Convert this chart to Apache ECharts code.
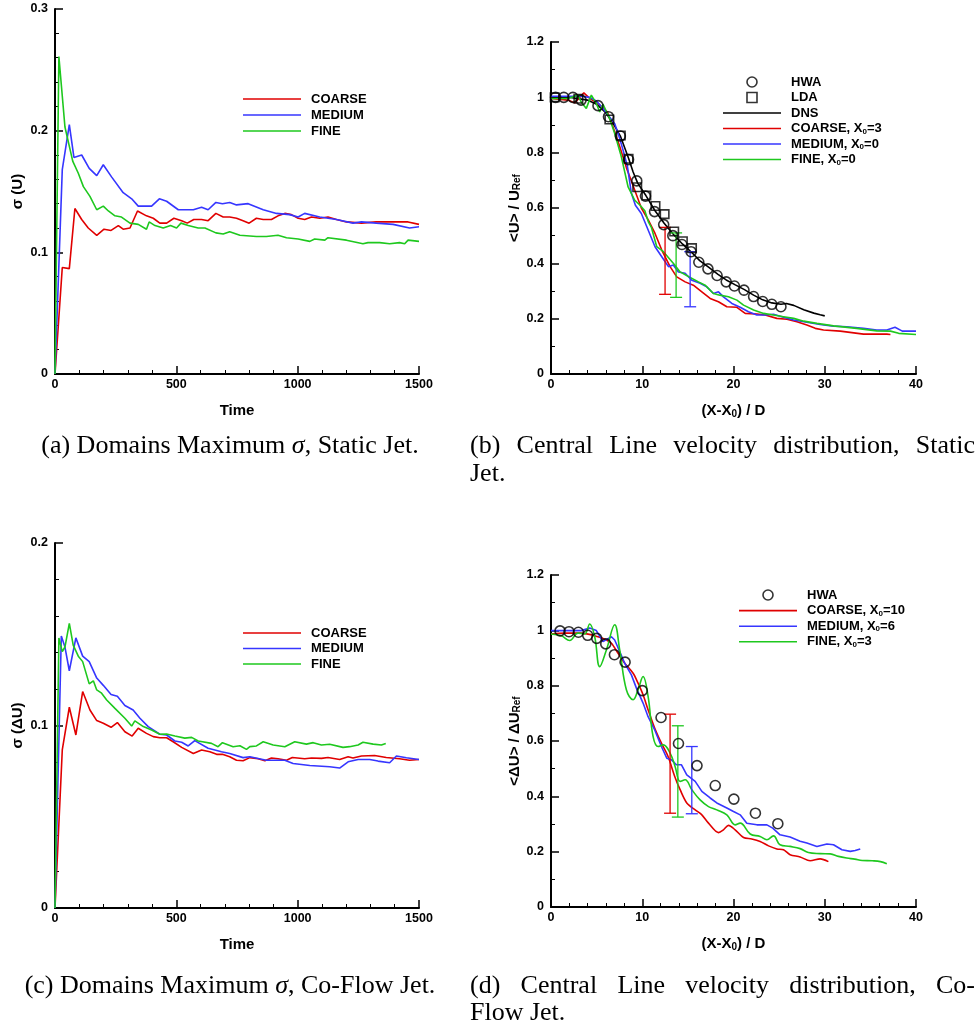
<!DOCTYPE html>
<html><head><meta charset="utf-8">
<script src="https://cdn.jsdelivr.net/npm/echarts/dist/echarts.min.js"></script>
<style>html,body{margin:0;padding:0;background:#fff}#c{width:979px;height:1033px}</style>
</head><body><div id="c"></div>
<script>
// ---------- DATA ----------
// (a) Static jet, domain maximum sigma(U) vs time
const a_coarse = [[0,0],[30,0.0875],[59,0.0866],[82,0.136],[110,0.127],[137,0.120],[172,0.114],[202,0.119],[231,0.118],[261,0.122],[281,0.119],[309,0.120],[340,0.134],[377,0.130],[405,0.128],[432,0.124],[460,0.124],[490,0.128],[522,0.126],[545,0.124],[572,0.127],[604,0.127],[631,0.126],[663,0.132],[693,0.129],[720,0.129],[748,0.128],[775,0.126],[800,0.124],[830,0.128],[858,0.127],[892,0.127],[919,0.130],[947,0.132],[974,0.131],[1002,0.128],[1029,0.127],[1057,0.129],[1091,0.128],[1125,0.129],[1160,0.127],[1201,0.125],[1263,0.124],[1324,0.125],[1393,0.125],[1455,0.125],[1500,0.123]];
const a_medium = [[0,0],[30,0.168],[59,0.205],[78,0.178],[110,0.180],[141,0.169],[172,0.163],[199,0.172],[233,0.162],[281,0.149],[316,0.144],[343,0.138],[398,0.138],[430,0.144],[460,0.142],[508,0.135],[570,0.135],[604,0.137],[631,0.135],[663,0.141],[690,0.140],[720,0.141],[748,0.139],[796,0.140],[858,0.135],[913,0.132],[967,0.131],[1002,0.129],[1029,0.132],[1091,0.129],[1160,0.127],[1228,0.124],[1263,0.125],[1324,0.124],[1393,0.123],[1461,0.120],[1500,0.121]];
const a_fine = [[0,0],[16,0.261],[41,0.203],[73,0.175],[96,0.165],[117,0.154],[144,0.146],[172,0.135],[199,0.138],[220,0.134],[247,0.130],[274,0.129],[309,0.124],[343,0.123],[377,0.119],[388,0.125],[412,0.122],[446,0.120],[476,0.122],[501,0.120],[519,0.124],[549,0.122],[590,0.120],[618,0.120],[663,0.116],[693,0.115],[720,0.117],[762,0.114],[830,0.113],[871,0.113],[919,0.114],[954,0.112],[1002,0.111],[1050,0.109],[1070,0.111],[1112,0.110],[1125,0.112],[1201,0.110],[1269,0.107],[1290,0.108],[1338,0.108],[1379,0.107],[1420,0.108],[1441,0.107],[1455,0.110],[1500,0.109]];

// (b) Static jet, centre-line velocity
const b_hwa = [[0.5,1.0],[1.4,1.0],[2.4,1.0],[3.3,0.99],[5.15,0.97],[6.3,0.93],[7.6,0.86],[8.5,0.775],[9.4,0.698],[10.35,0.643],[11.35,0.587],[12.35,0.54],[13.35,0.5],[14.35,0.468],[15.35,0.442],[16.2,0.404],[17.2,0.38],[18.2,0.356],[19.2,0.333],[20.1,0.318],[21.15,0.303],[22.2,0.28],[23.2,0.262],[24.2,0.252],[25.2,0.243]];
const b_lda = [[0.4,1.0],[3.0,0.995],[6.4,0.92],[7.65,0.862],[8.5,0.778],[9.45,0.675],[10.45,0.645],[11.45,0.607],[12.45,0.578],[13.5,0.515],[14.45,0.48],[15.45,0.455]];
const b_dns = [[0,1.0],[2,1.0],[4,0.99],[5,0.975],[6,0.945],[7,0.895],[7.6,0.86],[8.5,0.78],[9,0.73],[9.5,0.69],[10.4,0.645],[11.4,0.59],[12.4,0.545],[13.4,0.505],[14.4,0.47],[15.4,0.44],[16.3,0.41],[17.3,0.385],[18.3,0.36],[19.2,0.34],[20.2,0.322],[21.2,0.305],[22.2,0.285],[23.2,0.268],[24.2,0.257],[25.2,0.252],[25.8,0.255],[26.6,0.248],[27.7,0.232],[28.8,0.22],[29.5,0.214],[30,0.21]];
const b_coarse = [[0,0.996],[1.86,0.99],[2.6,0.98],[3.6,1.016],[4.24,0.996],[5.15,0.978],[6.18,0.947],[6.8,0.893],[7.54,0.821],[8.26,0.746],[9.18,0.664],[9.9,0.6],[10.67,0.556],[11.4,0.508],[12.14,0.448],[13.05,0.388],[13.78,0.351],[14.7,0.333],[15.6,0.321],[16.53,0.297],[17.44,0.273],[18.35,0.261],[19.27,0.243],[20.37,0.241],[21.28,0.219],[22.56,0.217],[23.47,0.213],[24.75,0.201],[25.85,0.198],[26.95,0.189],[28.04,0.177],[28.96,0.165],[29.87,0.159],[31.7,0.155],[34.25,0.144],[36.8,0.144],[37.2,0.143]];
const b_medium = [[0,1.004],[3.3,1.004],[4.24,1.0],[4.97,0.987],[5.7,0.96],[6.98,0.905],[7.53,0.851],[7.9,0.809],[8.37,0.751],[8.81,0.653],[9.25,0.61],[9.9,0.58],[10.5,0.532],[11.4,0.46],[12.14,0.424],[12.87,0.388],[13.4,0.394],[13.96,0.369],[14.7,0.364],[15.43,0.339],[16.34,0.328],[17.07,0.315],[17.8,0.291],[18.35,0.297],[18.9,0.279],[19.82,0.255],[20.73,0.241],[21.64,0.225],[22.56,0.213],[23.47,0.213],[24.38,0.216],[25.48,0.205],[26.58,0.195],[28.04,0.187],[29.5,0.179],[30.96,0.173],[32.4,0.171],[34.25,0.165],[35.7,0.159],[36.8,0.159],[37.7,0.169],[38.5,0.155],[40,0.155]];
const b_fine = [[0,0.996],[1.86,0.996],[2.96,1.008],[3.3,0.983],[3.87,0.96],[4.42,1.008],[4.97,0.978],[5.34,0.947],[5.7,0.975],[6.44,0.923],[6.98,0.869],[7.71,0.785],[8.45,0.676],[9.18,0.628],[9.76,0.61],[10.28,0.59],[10.67,0.55],[11.0,0.53],[11.59,0.46],[12.32,0.442],[13.4,0.4],[14.15,0.369],[15.25,0.349],[16.16,0.333],[16.89,0.321],[17.8,0.291],[18.5,0.285],[19.45,0.279],[20.37,0.267],[21.1,0.249],[22.2,0.231],[23.3,0.219],[24.38,0.213],[25.48,0.207],[26.6,0.201],[27.7,0.191],[29.14,0.183],[30.96,0.174],[33.5,0.165],[35.7,0.156],[37.2,0.155],[38.1,0.147],[40,0.143]];
// error bars: [x, low, high]
const b_err_coarse = [[12.5,0.288,0.53]];
const b_err_fine = [[13.71,0.277,0.51]];
const b_err_medium = [[15.25,0.243,0.442]];

// (c) Co-flow jet, domain maximum sigma(dU) vs time
const c_coarse = [[0,0],[30,0.0866],[59,0.110],[86,0.0948],[114,0.1186],[144,0.1085],[172,0.1027],[199,0.1012],[231,0.099],[257,0.1016],[288,0.0966],[318,0.0942],[343,0.0985],[377,0.0957],[405,0.0939],[432,0.0933],[460,0.0933],[487,0.0911],[522,0.088],[570,0.0847],[604,0.0866],[638,0.0856],[666,0.0842],[690,0.0842],[720,0.0829],[748,0.081],[775,0.0807],[803,0.0824],[837,0.0818],[865,0.0807],[892,0.0822],[919,0.0818],[954,0.081],[978,0.0825],[1029,0.0818],[1057,0.0822],[1098,0.082],[1125,0.0825],[1173,0.0814],[1208,0.0829],[1228,0.0822],[1263,0.0833],[1317,0.0836],[1365,0.0825],[1420,0.0818],[1461,0.081],[1500,0.0814]];
const c_medium = [[0,0],[26,0.149],[41,0.143],[59,0.130],[86,0.148],[114,0.138],[141,0.135],[172,0.126],[199,0.122],[231,0.117],[257,0.116],[288,0.111],[322,0.1085],[350,0.104],[384,0.0994],[432,0.0952],[460,0.0948],[494,0.0915],[522,0.0908],[549,0.0888],[576,0.0917],[631,0.0875],[686,0.0856],[720,0.0847],[775,0.0824],[803,0.0829],[871,0.081],[947,0.081],[981,0.0792],[1050,0.0781],[1132,0.0774],[1173,0.0767],[1208,0.0801],[1249,0.0814],[1297,0.0814],[1331,0.0805],[1379,0.0796],[1407,0.0833],[1448,0.0823],[1500,0.0814]];
const c_fine = [[0,0],[16,0.148],[30,0.1405],[41,0.143],[59,0.156],[75,0.144],[96,0.138],[114,0.135],[141,0.1228],[158,0.1245],[172,0.1195],[192,0.1177],[213,0.114],[247,0.1094],[288,0.104],[316,0.0997],[329,0.1025],[364,0.0994],[398,0.0975],[432,0.0952],[460,0.0953],[494,0.0942],[535,0.0931],[563,0.0935],[590,0.0915],[645,0.0902],[672,0.0884],[690,0.0906],[734,0.0884],[762,0.0889],[789,0.0869],[803,0.0884],[830,0.0888],[858,0.0911],[899,0.0893],[947,0.0884],[988,0.0911],[1036,0.0898],[1064,0.0906],[1098,0.0893],[1132,0.0897],[1187,0.088],[1214,0.0884],[1249,0.0893],[1269,0.0908],[1311,0.0898],[1345,0.0893],[1363,0.0902]];

// (d) Co-flow jet, centre-line velocity
const d_hwa = [[0.99,0.998],[1.97,0.995],[3.0,0.993],[4.02,0.982],[5.01,0.971],[6.0,0.951],[6.95,0.912],[8.12,0.885],[10.0,0.782],[12.06,0.685],[13.97,0.591],[16.0,0.511],[18.0,0.439],[20.04,0.39],[22.4,0.339],[24.86,0.301]];
const d_coarse = [[0,0.987],[1.5,0.99],[3.3,0.99],[5.15,0.977],[6.07,0.965],[6.62,0.953],[7.35,0.917],[8.08,0.881],[9.0,0.845],[9.54,0.809],[10.09,0.767],[10.64,0.713],[11.37,0.646],[12.1,0.592],[12.83,0.544],[13.56,0.472],[14.15,0.424],[14.88,0.376],[15.8,0.351],[16.53,0.333],[17.26,0.303],[18.35,0.269],[18.9,0.279],[19.45,0.295],[20.18,0.279],[21.1,0.251],[22.0,0.246],[22.92,0.237],[23.84,0.221],[24.75,0.21],[25.48,0.207],[26.2,0.189],[27.3,0.181],[28.4,0.167],[29.5,0.174],[30.4,0.164]];
const d_medium = [[0,0.999],[3.3,0.999],[4.24,1.008],[4.97,0.999],[5.7,0.959],[6.62,0.977],[6.98,0.965],[7.53,0.923],[8.08,0.881],[8.81,0.839],[9.36,0.791],[10.09,0.737],[10.64,0.688],[11.37,0.64],[12.1,0.58],[12.69,0.538],[13.2,0.532],[13.74,0.514],[14.3,0.514],[14.88,0.478],[15.8,0.454],[16.53,0.418],[17.44,0.394],[18.17,0.376],[19.27,0.358],[20.0,0.345],[20.73,0.333],[21.46,0.303],[22.56,0.297],[23.66,0.297],[24.3,0.285],[25.1,0.261],[26.2,0.253],[27.3,0.238],[28.04,0.231],[29.14,0.219],[30.24,0.228],[30.96,0.225],[31.88,0.207],[32.8,0.201],[33.34,0.204],[33.89,0.21]];
const d_fine = [[0,0.987],[1.13,0.98],[2.05,0.963],[2.96,0.99],[3.7,0.987],[4.24,1.023],[4.79,0.977],[5.34,0.869],[6.07,0.929],[6.98,1.02],[7.53,0.929],[8.26,0.785],[9.0,0.749],[9.54,0.785],[10.09,0.833],[10.64,0.761],[11.19,0.616],[11.74,0.58],[12.32,0.586],[13.05,0.556],[13.6,0.508],[14.15,0.454],[14.7,0.46],[15.43,0.424],[16.34,0.387],[17.26,0.363],[18.17,0.351],[19.27,0.333],[20.18,0.297],[20.73,0.303],[21.83,0.264],[22.92,0.255],[23.66,0.243],[24.38,0.257],[25.1,0.225],[26.2,0.219],[27.3,0.211],[28.2,0.197],[29.5,0.193],[30.6,0.192],[31.5,0.183],[32.4,0.177],[33.3,0.173],[34.1,0.168],[35.2,0.167],[36.1,0.164],[36.8,0.156]];
const d_err_coarse = [[13.05,0.339,0.697]];
const d_err_fine = [[13.9,0.325,0.655]];
const d_err_medium = [[15.43,0.337,0.58]];

// legend / caption text
const legA = ['COARSE','MEDIUM','FINE'];
const legB = ['HWA','LDA','DNS','COARSE, X0=3','MEDIUM, X0=0','FINE, X0=0'];
const legD = ['HWA','COARSE, X0=10','MEDIUM, X0=6','FINE, X0=3'];

// ---------- STYLE ----------
const FONT = '"Liberation Sans", Arial, sans-serif';
const SERIF = '"Liberation Serif", "Times New Roman", serif';
const RED = '#e00000', BLUE = '#3636ff', GREEN = '#1ec81e', BLACK = '#000';
const CAP = 26;
const colorOf = n => n.startsWith('COARSE') ? RED : n.startsWith('MEDIUM') ? BLUE : n.startsWith('FINE') ? GREEN : BLACK;
const markStyle = {color:'rgba(255,255,255,0)', borderColor:'#000', borderWidth:1.6};

function subRich(size, pad) {
  return {sub:{fontFamily:FONT, fontWeight:'bold', fontSize:size, color:'#000', verticalAlign:'bottom', padding:[pad,0,0,0]}};
}
function xAx(grid, max, interval, minor, name) {
  return {
    type:'value', gridIndex:grid, min:0, max:max, interval:interval,
    name:name, nameLocation:'middle', nameGap:29,
    nameTextStyle:{fontFamily:FONT, fontWeight:'bold', fontSize:15, color:'#000', rich:subRich(10,6)},
    axisLine:{show:true, onZero:false, lineStyle:{color:'#000', width:2}},
    axisTick:{show:true, inside:true, length:8, lineStyle:{color:'#000', width:1.5}},
    minorTick:{show:true, splitNumber:minor, length:4, lineStyle:{color:'#000', width:1}},
    splitLine:{show:false},
    axisLabel:{fontFamily:FONT, fontWeight:'bold', fontSize:12.5, color:'#000', margin:4, formatter:v => String(v)}
  };
}
function yAx(grid, max, interval, minor, name, gap) {
  return {
    type:'value', gridIndex:grid, min:0, max:max, interval:interval,
    name:name, nameLocation:'middle', nameGap:gap,
    nameTextStyle:{fontFamily:FONT, fontWeight:'bold', fontSize:15, color:'#000', rich:subRich(10,6)},
    axisLine:{show:true, onZero:false, lineStyle:{color:'#000', width:2}},
    axisTick:{show:true, inside:true, length:8, lineStyle:{color:'#000', width:1.5}},
    minorTick:{show:true, splitNumber:minor, length:4, lineStyle:{color:'#000', width:1}},
    splitLine:{show:false},
    axisLabel:{fontFamily:FONT, fontWeight:'bold', fontSize:12.5, color:'#000', margin:7, formatter:v => String(+v.toFixed(2))}
  };
}
function line(name, data, color, xi, smooth) {
  return {type:'line', name:name, data:data, xAxisIndex:xi, yAxisIndex:xi,
    showSymbol:false, symbol:'none', smooth:smooth||false, clip:true,
    lineStyle:{color:color, width:1.6}, itemStyle:{color:color}, z:2};
}
function errBar(name, data, color, xi) {
  return {type:'custom', name:name, data:data, xAxisIndex:xi, yAxisIndex:xi, silent:true, z:3,
    renderItem:function(params, api){
      const x = api.value(0), lo = api.value(1), hi = api.value(2);
      const p1 = api.coord([x, lo]), p2 = api.coord([x, hi]);
      const st = {stroke:color, lineWidth:1.3};
      const w = 6;
      return {type:'group', children:[
        {type:'line', shape:{x1:p1[0], y1:p1[1], x2:p2[0], y2:p2[1]}, style:st},
        {type:'line', shape:{x1:p1[0]-w, y1:p1[1], x2:p1[0]+w, y2:p1[1]}, style:st},
        {type:'line', shape:{x1:p2[0]-w, y1:p2[1], x2:p2[0]+w, y2:p2[1]}, style:st}
      ]};
    }};
}
function legItem(n) {
  if (n === 'HWA') return {name:n, icon:'circle', itemStyle:markStyle};
  if (n === 'LDA') return {name:n, icon:'path://M0,0H9V9H0Z', itemStyle:markStyle};
  return {name:n, icon:'path://M0,0H58V1.6H0Z', itemStyle:{color:colorOf(n), borderWidth:0}};
}
function legend(names, left, top, gap) {
  return {data:names.map(legItem), left:left, top:top, orient:'vertical', padding:0,
    itemWidth:58, itemHeight:10, itemGap:gap, selectedMode:false,
    formatter:function(n){ return n.replace('X0','X{sub|0}'); },
    textStyle:{fontFamily:FONT, fontWeight:'bold', fontSize:13, color:'#000', lineHeight:14, padding:[0,0,0,5], rich:subRich(8,5)}};
}

// ---------- CAPTIONS ----------
const mctx = document.createElement('canvas').getContext('2d');
function tw(t){ mctx.font = CAP + 'px ' + SERIF; return mctx.measureText(t).width; }
function txt(x, y, t, rich, align) {
  const s = {text:t, fontFamily:SERIF, fontSize:CAP, fill:'#000', align:align||'left', verticalAlign:'middle'};
  if (rich) s.rich = rich;
  return {type:'text', x:x, y:y, style:s, silent:true};
}
function justify(words, x1, x2, y) {
  const ws = words.map(tw), tot = ws.reduce((a,b)=>a+b,0);
  const g = (x2 - x1 - tot) / (words.length - 1);
  let x = x1; const out = [];
  words.forEach((w,i)=>{ out.push(txt(x, y, w)); x += ws[i] + g; });
  return out;
}
const italic = {i:{fontFamily:SERIF, fontSize:CAP, fontStyle:'italic', fill:'#000'}};
const graphics = [].concat(
  [txt(230, 446, '(a) Domains Maximum {i|σ}, Static Jet.', italic, 'center')],
  justify(['(b)','Central','Line','velocity','distribution,','Static'], 470, 975, 446),
  [txt(470, 474, 'Jet.')],
  [txt(230, 986, '(c) Domains Maximum {i|σ}, Co-Flow Jet.', italic, 'center')],
  justify(['(d)','Central','Line','velocity','distribution,','Co-'], 470, 975, 986),
  [txt(470, 1013, 'Flow Jet.')]
);

// ---------- CHART ----------
const chart = echarts.init(document.getElementById('c'), null, {renderer:'canvas'});
chart.setOption({
  animation:false,
  backgroundColor:'#fff',
  grid:[
    {left:55, top:9, width:364, height:365},
    {left:551, top:42, width:365, height:332},
    {left:55, top:543, width:364, height:365},
    {left:551, top:575, width:365, height:332}
  ],
  xAxis:[
    xAx(0, 1500, 500, 5, 'Time'),
    xAx(1, 40, 10, 5, '(X-X{sub|0}) / D'),
    xAx(2, 1500, 500, 5, 'Time'),
    xAx(3, 40, 10, 5, '(X-X{sub|0}) / D')
  ],
  yAxis:[
    yAx(0, 0.3, 0.1, 5, 'σ (U)', 30),
    yAx(1, 1.2, 0.2, 2, '<U> / U{sub|Ref}', 26),
    yAx(2, 0.2, 0.1, 5, 'σ (ΔU)', 30),
    yAx(3, 1.2, 0.2, 2, '<ΔU> / ΔU{sub|Ref}', 26)
  ],
  legend:[
    legend(legA, 243, 92, 2),
    legend(legB, 723, 75, 1.5),
    legend(legA, 243, 626, 1.5),
    legend(legD, 739, 588, 1.6)
  ],
  series:[
    line('COARSE', a_coarse, RED, 0), line('MEDIUM', a_medium, BLUE, 0), line('FINE', a_fine, GREEN, 0),
    line('DNS', b_dns, BLACK, 1),
    line('COARSE, X0=3', b_coarse, RED, 1), line('MEDIUM, X0=0', b_medium, BLUE, 1), line('FINE, X0=0', b_fine, GREEN, 1),
    {type:'scatter', name:'HWA', data:b_hwa, xAxisIndex:1, yAxisIndex:1, symbol:'circle', symbolSize:10, itemStyle:markStyle, z:4},
    {type:'scatter', name:'LDA', data:b_lda, xAxisIndex:1, yAxisIndex:1, symbol:'rect', symbolSize:8.5, itemStyle:markStyle, z:4},
    errBar('eb1', b_err_coarse, RED, 1), errBar('eb2', b_err_fine, GREEN, 1), errBar('eb3', b_err_medium, BLUE, 1),
    line('COARSE', c_coarse, RED, 2), line('MEDIUM', c_medium, BLUE, 2), line('FINE', c_fine, GREEN, 2),
    line('COARSE, X0=10', d_coarse, RED, 3, 0.3), line('MEDIUM, X0=6', d_medium, BLUE, 3), line('FINE, X0=3', d_fine, GREEN, 3, 0.4),
    {type:'scatter', name:'HWA', data:d_hwa, xAxisIndex:3, yAxisIndex:3, symbol:'circle', symbolSize:10, itemStyle:markStyle, z:4},
    errBar('eb4', d_err_coarse, RED, 3), errBar('eb5', d_err_fine, GREEN, 3), errBar('eb6', d_err_medium, BLUE, 3)
  ],
  graphic:graphics
});
</script>
</body></html>
